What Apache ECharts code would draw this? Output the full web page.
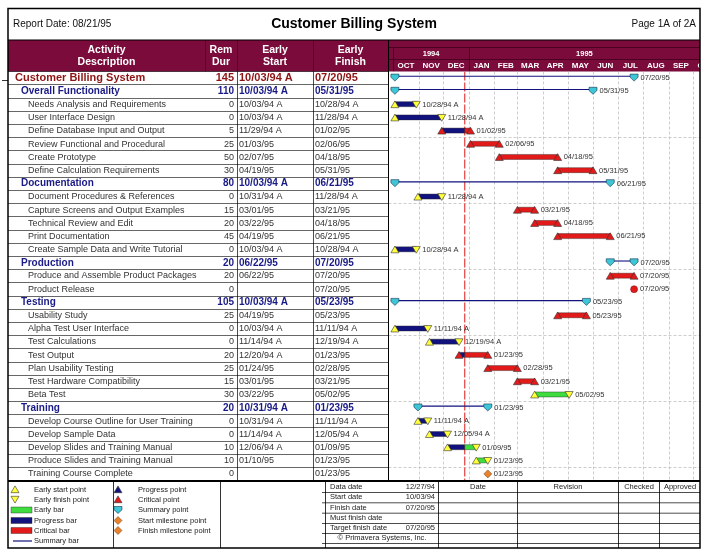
<!DOCTYPE html>
<html><head><meta charset="utf-8">
<script src="https://cdn.jsdelivr.net/npm/echarts@6.0.0/dist/echarts.min.js"></script>
<style>html,body{margin:0;padding:0;background:#fff}#c{width:708px;height:555px}</style>
</head><body><div id="c"></div>
<script>
// ---------------- DATA ----------------
const reportDate = '08/21/95';
const chartTitle = 'Customer Billing System';
const pageLabel = 'Page 1A of 2A';
const dataDate = '12/27/94';

const activityNames = ['Customer Billing System','Overall Functionality','Needs Analysis and Requirements','User Interface Design','Define Database Input and Output','Review Functional and Procedural','Create Prototype','Define Calculation Requirements','Documentation','Document Procedures & References','Capture Screens and Output Examples','Technical Review and Edit','Print Documentation','Create Sample Data and Write Tutorial','Production','Produce and Assemble Product Packages','Product Release','Testing','Usability Study','Alpha Test User Interface','Test Calculations','Test Output','Plan Usability Testing','Test Hardware Compatibility','Beta Test','Training','Develop Course Outline for User Training','Develop Sample Data','Develop Slides and Training Manual','Produce Slides and Training Manual','Training Course Complete'];
const activityLevels = [0,1,2,2,2,2,2,2,1,2,2,2,2,2,1,2,2,1,2,2,2,2,2,2,2,1,2,2,2,2,2];
const remainingDur = [145,110,0,0,5,25,50,30,80,0,15,20,45,0,20,20,0,105,25,0,0,20,25,15,30,20,0,0,10,10,0];
const earlyStart = ['10/03/94 A','10/03/94 A','10/03/94 A','10/03/94 A','11/29/94 A','01/03/95','02/07/95','04/19/95','10/03/94 A','10/31/94 A','03/01/95','03/22/95','04/19/95','10/03/94 A','06/22/95','06/22/95','','10/03/94 A','04/19/95','10/03/94 A','11/14/94 A','12/20/94 A','01/24/95','03/01/95','03/22/95','10/31/94 A','10/31/94 A','11/14/94 A','12/06/94 A','01/10/95',''];
const earlyFinish = ['07/20/95','05/31/95','10/28/94 A','11/28/94 A','01/02/95','02/06/95','04/18/95','05/31/95','06/21/95','11/28/94 A','03/21/95','04/18/95','06/21/95','10/28/94 A','07/20/95','07/20/95','07/20/95','05/23/95','05/23/95','11/11/94 A','12/19/94 A','01/23/95','02/28/95','03/21/95','05/02/95','01/23/95','11/11/94 A','12/05/94 A','01/09/95','01/23/95','01/23/95'];
const activityKind = ['summary','summary','complete','complete','criticalInProgress','critical','critical','critical','summary','complete','critical','critical','critical','complete','summary','critical','criticalMilestone','summary','critical','complete','complete','criticalInProgress','critical','critical','early','summary','complete','complete','earlyInProgress','early','milestone'];

const monthLabels = ['OCT','NOV','DEC','JAN','FEB','MAR','APR','MAY','JUN','JUL','AUG','SEP','OCT'];
const monthStarts = ['10/01/94','11/01/94','12/01/94','01/01/95','02/01/95','03/01/95','04/01/95','05/01/95','06/01/95','07/01/95','08/01/95','09/01/95','10/01/95'];
const yearLabels = ['1994','1995'];
const yearStarts = ['10/01/94','01/01/95'];
const yearEnds = ['01/01/95','01/01/96'];

const tableHeaders = [['Activity','Description'],['Rem','Dur'],['Early','Start'],['Early','Finish']];

const legendCol1 = ['Early start point','Early finish point','Early bar','Progress bar','Critical bar','Summary bar'];
const legendCol2 = ['Progress point','Critical point','Summary point','Start milestone point','Finish milestone point'];
const infoLabels = ['Data date','Start date','Finish date','Must finish date','Target finish date'];
const infoValues = ['12/27/94','10/03/94','07/20/95','','07/20/95'];
const copyrightText = '\u00A9 Primavera Systems, Inc.';
const revisionHeaders = ['Date','Revision','Checked','Approved'];

// ---------------- HELPERS ----------------
const DAY = 86400000;
function pd(s){ if(!s) return null; const p = s.slice(0,8).split('/'); return Date.UTC(1900 + (+p[2]), +p[0]-1, +p[1]); }
const FONT = '"Liberation Sans", Arial, Helvetica, sans-serif';
const MAROON = '#7a0b3b';
const NAVY = '#12127e';
const RED = '#e21a1a';
const GREEN = '#3fdc3f';
const YELLOW = '#ffff3a';
const CYAN = '#3cc6d6';
const ORANGE = '#e9822c';
const axisMin = Date.UTC(1994,9,1) - 5.8*DAY;
const axisMax = axisMin + 379*DAY;
const dataDateMs = pd(dataDate);

const rowKeys = activityNames.map((_, i) => String(i));

function triUp(x, c, fill){ return {type:'polygon', shape:{points:[[x-4,c+3.2],[x+4,c+3.2],[x,c-3.6]]}, style:{fill, stroke:'#333', lineWidth:0.6}}; }
function triDown(x, c, fill){ return {type:'polygon', shape:{points:[[x-4,c-3.2],[x+4,c-3.2],[x,c+3.6]]}, style:{fill, stroke:'#333', lineWidth:0.6}}; }
function pent(x, c){ return {type:'polygon', shape:{points:[[x-4,c-4],[x+4,c-4],[x+4,c-0.8],[x,c+3],[x-4,c-0.8]]}, style:{fill:CYAN, stroke:'#1a3350', lineWidth:0.6}}; }
function diamond(x, c, fill){ return {type:'polygon', shape:{points:[[x,c-4],[x+4,c],[x,c+4],[x-4,c]]}, style:{fill, stroke:'#6a3a10', lineWidth:0.5}}; }
function barRect(x0, x1, c, fill){ return {type:'rect', shape:{x:x0, y:c-2.8, width:Math.max(0,x1-x0), height:5}, style:{fill, stroke:'#222', lineWidth:0.4}}; }

// ---------------- STATIC GRAPHIC ----------------
const G = [];
function gl(x1,y1,x2,y2,stroke,w,dash,z){ G.push({type:'line', silent:true, z:z||50, shape:{x1,y1,x2,y2}, style:{stroke, lineWidth:w, lineDash:dash||null}}); }
function gt(x,y,t,opt){ G.push({type:'text', silent:true, z:60, x, y, style:Object.assign({text:t, fill:'#222', font:'9px '+FONT, textAlign:'left', textVerticalAlign:'middle'}, opt||{})}); }

// header band
G.push({type:'rect', silent:true, z:0, shape:{x:8, y:40, width:692, height:31.5}, style:{fill:MAROON}});
const headerCenters = [106.5, 221, 275, 350.5];
tableHeaders.forEach((h, i) => {
  gt(headerCenters[i], 50, h[0], {fill:'#fff', font:'bold 10.5px '+FONT, textAlign:'center'});
  gt(headerCenters[i], 62, h[1], {fill:'#fff', font:'bold 10.5px '+FONT, textAlign:'center'});
});
[205.5, 237.5, 313.5].forEach(x => gl(x, 40, x, 71.5, '#4e0524', 0.8));
gl(388.5, 40, 388.5, 480.5, '#000', 1);
gl(388.5, 47.5, 700, 47.5, '#3d0019', 0.8);
gl(388.5, 59.5, 700, 59.5, '#3d0019', 0.8);
// body column separators
[237.5, 313.5].forEach(x => gl(x, 71.5, x, 480.5, '#000', 0.7));
// title row
gt(13, 24, 'Report Date: ' + reportDate, {font:'10px '+FONT, fill:'#111'});
gt(354, 24, chartTitle, {font:'bold 14px '+FONT, fill:'#000', textAlign:'center'});
gt(696, 24, pageLabel, {font:'10px '+FONT, fill:'#111', textAlign:'right'});
gl(8, 40, 700, 40, '#000', 1);
// outline mark
gl(2, 80.5, 8, 80.5, '#000', 0.8);
// frame
G.push({type:'rect', silent:true, z:70, shape:{x:8, y:8.5, width:692, height:539.5}, style:{fill:null, stroke:'#000', lineWidth:1.5}});
gl(8, 481, 700, 481, '#000', 2, null, 70);

// legend
gl(113.5, 481, 113.5, 548, '#000', 0.8);
gl(220.5, 481, 220.5, 548, '#000', 0.8);
const legY = [489.5, 499.5, 510, 520.5, 530.5, 541];
const c1 = [
  triUp(15, legY[0], YELLOW), triDown(15, legY[1], YELLOW),
  {type:'rect', shape:{x:11, y:legY[2]-3, width:21, height:6}, style:{fill:GREEN, stroke:'#222', lineWidth:0.4}},
  {type:'rect', shape:{x:11, y:legY[3]-3, width:21, height:6}, style:{fill:NAVY, stroke:'#222', lineWidth:0.4}},
  {type:'rect', shape:{x:11, y:legY[4]-3, width:21, height:6}, style:{fill:RED, stroke:'#222', lineWidth:0.4}},
  {type:'line', shape:{x1:13, y1:legY[5], x2:32, y2:legY[5]}, style:{stroke:NAVY, lineWidth:1.2}}
];
c1.forEach(e => { e.silent = true; e.z = 60; G.push(e); });
legendCol1.forEach((t, i) => gt(34, legY[i], t, {font:'7.5px '+FONT, fill:'#222'}));
const c2 = [ triUp(118, legY[0], NAVY), triUp(118, legY[1], RED), pent(118, legY[2]+0.5), diamond(118, legY[3], ORANGE), diamond(118, legY[4], ORANGE) ];
c2.forEach(e => { e.silent = true; e.z = 60; G.push(e); });
legendCol2.forEach((t, i) => gt(138, legY[i], t, {font:'7.5px '+FONT, fill:'#222'}));

// info table
const infoRowLines = [492, 502.3, 512.7, 523, 533, 543];
const infoRowCenters = [487, 497.3, 507.6, 518, 528, 538, 545.5];
gl(325.5, 481, 325.5, 548, '#000', 0.8);
[438.5, 517.5, 618.5, 659.5].forEach(x => gl(x, 481, x, 548, '#000', 0.8));
infoRowLines.forEach(y => gl(322, y+0.5, 700, y+0.5, '#000', 0.7));
infoLabels.forEach((t, i) => {
  gt(330, infoRowCenters[i], t, {font:'7.5px '+FONT, fill:'#222'});
  if (infoValues[i]) gt(435, infoRowCenters[i], infoValues[i], {font:'7.5px '+FONT, fill:'#222', textAlign:'right'});
});
gt(382, infoRowCenters[5], copyrightText, {font:'7.5px '+FONT, fill:'#222', textAlign:'center'});
const revCenters = [478, 568, 639, 680];
revisionHeaders.forEach((t, i) => gt(revCenters[i], infoRowCenters[0], t, {font:'7.5px '+FONT, fill:'#222', textAlign:'center'}));

// ---------------- SERIES ----------------
const rowData = activityNames.map((n, i) => [pd(earlyStart[i]) || pd(earlyFinish[i]), i]);

const tableSeries = {
  type:'custom', xAxisIndex:0, yAxisIndex:0, clip:false, z:5,
  data: activityNames.map((n, i) => [0, i]),
  renderItem(params, api){
    const i = params.dataIndex;
    const pt = api.coord([0, i]);
    const y = pt[1], x0 = pt[0];
    const lvl = activityLevels[i];
    const color = lvl === 0 ? '#8e1414' : lvl === 1 ? '#1a1a86' : '#333';
    const nameFont = lvl === 0 ? 'bold 11px ' : lvl === 1 ? 'bold 10px ' : '9px ';
    const numFont = lvl === 0 ? 'bold 11px ' : lvl === 1 ? 'bold 10px ' : '9px ';
    const indent = lvl === 0 ? 7 : lvl === 1 ? 13 : 20;
    const mk = (x, t, font, align) => ({type:'text', x, y, style:{text:t, fill:color, font:font+FONT, textAlign:align||'left', textVerticalAlign:'middle'}});
    return {type:'group', children:[
      mk(x0+indent, activityNames[i], nameFont),
      mk(x0+226, String(remainingDur[i]), numFont, 'right'),
      mk(x0+231, earlyStart[i], numFont),
      mk(x0+307, earlyFinish[i], numFont)
    ]};
  }
};

const gridLineSeries = {
  type:'custom', xAxisIndex:1, yAxisIndex:1, clip:true, z:1, silent:true,
  data: monthStarts.slice(1).map(s => [pd(s), 0]),
  renderItem(params, api){
    const cs = params.coordSys;
    const x = Math.round(api.coord([api.value(0), 0])[0]) + 0.5;
    return {type:'line', shape:{x1:x, y1:cs.y, x2:x, y2:cs.y+cs.height}, style:{stroke:'#b8b8b8', lineWidth:0.7, lineDash:[3,2]}};
  }
};

const dataDateSeries = {
  type:'custom', xAxisIndex:1, yAxisIndex:1, clip:true, z:2, silent:true,
  data: [[dataDateMs, 0]],
  renderItem(params, api){
    const cs = params.coordSys;
    const x = api.coord([api.value(0), 0])[0];
    return {type:'line', shape:{x1:x, y1:cs.y, x2:x, y2:cs.y+cs.height}, style:{stroke:'#e01818', lineWidth:1, lineDash:[9,2]}};
  }
};

const barSeries = {
  type:'custom', xAxisIndex:1, yAxisIndex:1, clip:false, z:4, silent:true,
  data: rowData,
  renderItem(params, api){
    const i = params.dataIndex;
    const kind = activityKind[i];
    const c = api.coord([axisMin, i])[1];
    const sMs = pd(earlyStart[i]);
    const eMs = pd(earlyFinish[i]) + DAY;
    const xs = sMs != null ? api.coord([sMs, i])[0] : null;
    const xe = api.coord([eMs, i])[0];
    const xd = api.coord([dataDateMs, i])[0];
    const ch = [];
    let labelX = xe + 6;
    if (kind === 'summary') {
      ch.push({type:'line', shape:{x1:xs, y1:c-1.8, x2:xe, y2:c-1.8}, style:{stroke:NAVY, lineWidth:1.1}});
      ch.push(pent(xs, c)); ch.push(pent(xe, c));
      labelX = xe + 6.5;
    } else if (kind === 'complete') {
      ch.push(barRect(xs, xe, c, NAVY));
      ch.push(triUp(xs, c, YELLOW)); ch.push(triDown(xe, c, YELLOW));
    } else if (kind === 'critical') {
      ch.push(barRect(xs, xe, c, RED));
      ch.push(triUp(xs, c, RED)); ch.push(triUp(xe, c, RED));
    } else if (kind === 'criticalInProgress') {
      ch.push(barRect(xs, xd, c, NAVY));
      ch.push(barRect(xd, xe, c, RED));
      ch.push(triUp(xs, c, RED)); ch.push(triUp(xe, c, RED));
    } else if (kind === 'early') {
      ch.push(barRect(xs, xe, c, GREEN));
      ch.push(triUp(xs, c, YELLOW)); ch.push(triDown(xe, c, YELLOW));
    } else if (kind === 'earlyInProgress') {
      ch.push(barRect(xs, xd, c, NAVY));
      ch.push(barRect(xd, xe, c, GREEN));
      ch.push(triUp(xs, c, YELLOW)); ch.push(triDown(xe, c, YELLOW));
    } else if (kind === 'criticalMilestone') {
      ch.push({type:'circle', shape:{cx:xe, cy:c, r:3.5}, style:{fill:RED, stroke:'#7a1010', lineWidth:0.5}});
    } else if (kind === 'milestone') {
      ch.push(diamond(xe, c, ORANGE));
    }
    ch.push({type:'text', x:labelX, y:c, style:{text:earlyFinish[i], fill:'#333', font:'7.5px '+FONT, textAlign:'left', textVerticalAlign:'middle'}});
    return {type:'group', children:ch};
  }
};

const monthHeaderSeries = {
  type:'custom', xAxisIndex:2, yAxisIndex:2, clip:true, z:5, silent:true,
  data: monthStarts.map(s => [pd(s), 0]),
  renderItem(params, api){
    const i = params.dataIndex;
    const cs = params.coordSys;
    const s = api.value(0);
    const next = i + 1 < monthStarts.length ? pd(monthStarts[i+1]) : s + 31*DAY;
    const xm = (api.coord([s, 0])[0] + api.coord([next, 0])[0]) / 2;
    return {type:'text', x:xm, y:cs.y + cs.height - 6, style:{text:monthLabels[i], fill:'#fff', font:'bold 8px '+FONT, textAlign:'center', textVerticalAlign:'middle'}};
  }
};

const yearHeaderSeries = {
  type:'custom', xAxisIndex:2, yAxisIndex:2, clip:true, z:5, silent:true,
  data: yearStarts.map(s => [pd(s), 0]),
  renderItem(params, api){
    const i = params.dataIndex;
    const cs = params.coordSys;
    const s = Math.max(api.value(0), axisMin);
    const e = Math.min(pd(yearEnds[i]), axisMax);
    const x0 = api.coord([s, 0])[0], x1 = api.coord([e, 0])[0];
    const ch = [{type:'text', x:(x0+x1)/2, y:cs.y + 6.5, style:{text:yearLabels[i], fill:'#fff', font:'bold 7.5px '+FONT, textAlign:'center', textVerticalAlign:'middle'}}];
    if (api.value(0) > axisMin) {
      const xs = Math.round(api.coord([api.value(0), 0])[0]) + 0.5;
      ch.push({type:'line', shape:{x1:xs, y1:cs.y, x2:xs, y2:cs.y+cs.height}, style:{stroke:'#3d0019', lineWidth:0.8}});
    }
    return {type:'group', children:ch};
  }
};

const chart = echarts.init(document.getElementById('c'), null, {renderer:'canvas', width:708, height:555});
chart.setOption({
  animation:false,
  backgroundColor:'#fff',
  grid:[
    {left:8, top:71.5, width:380, height:409},
    {left:388.5, top:71.5, width:311.5, height:409},
    {left:388.5, top:47.5, width:311.5, height:24}
  ],
  xAxis:[
    {type:'value', gridIndex:0, min:0, max:380, show:false},
    {type:'time', gridIndex:1, min:axisMin, max:axisMax, show:false},
    {type:'time', gridIndex:2, min:axisMin, max:axisMax, show:false}
  ],
  yAxis:[
    {type:'category', gridIndex:0, data:rowKeys, inverse:true, axisLine:{show:false}, axisTick:{show:false}, axisLabel:{show:false},
      splitLine:{show:true, interval:0, lineStyle:{color:'#000', width:0.6}}},
    {type:'category', gridIndex:1, data:rowKeys, inverse:true, axisLine:{show:false}, axisTick:{show:false}, axisLabel:{show:false},
      splitLine:{show:true, interval:(idx) => idx > 0 && idx % 5 === 0, lineStyle:{color:'#b8b8b8', width:0.7, type:[3,2]}}},
    {type:'value', gridIndex:2, min:0, max:2, show:false}
  ],
  graphic:{elements:G},
  series:[tableSeries, gridLineSeries, dataDateSeries, barSeries, monthHeaderSeries, yearHeaderSeries]
});
</script>
</body></html>
